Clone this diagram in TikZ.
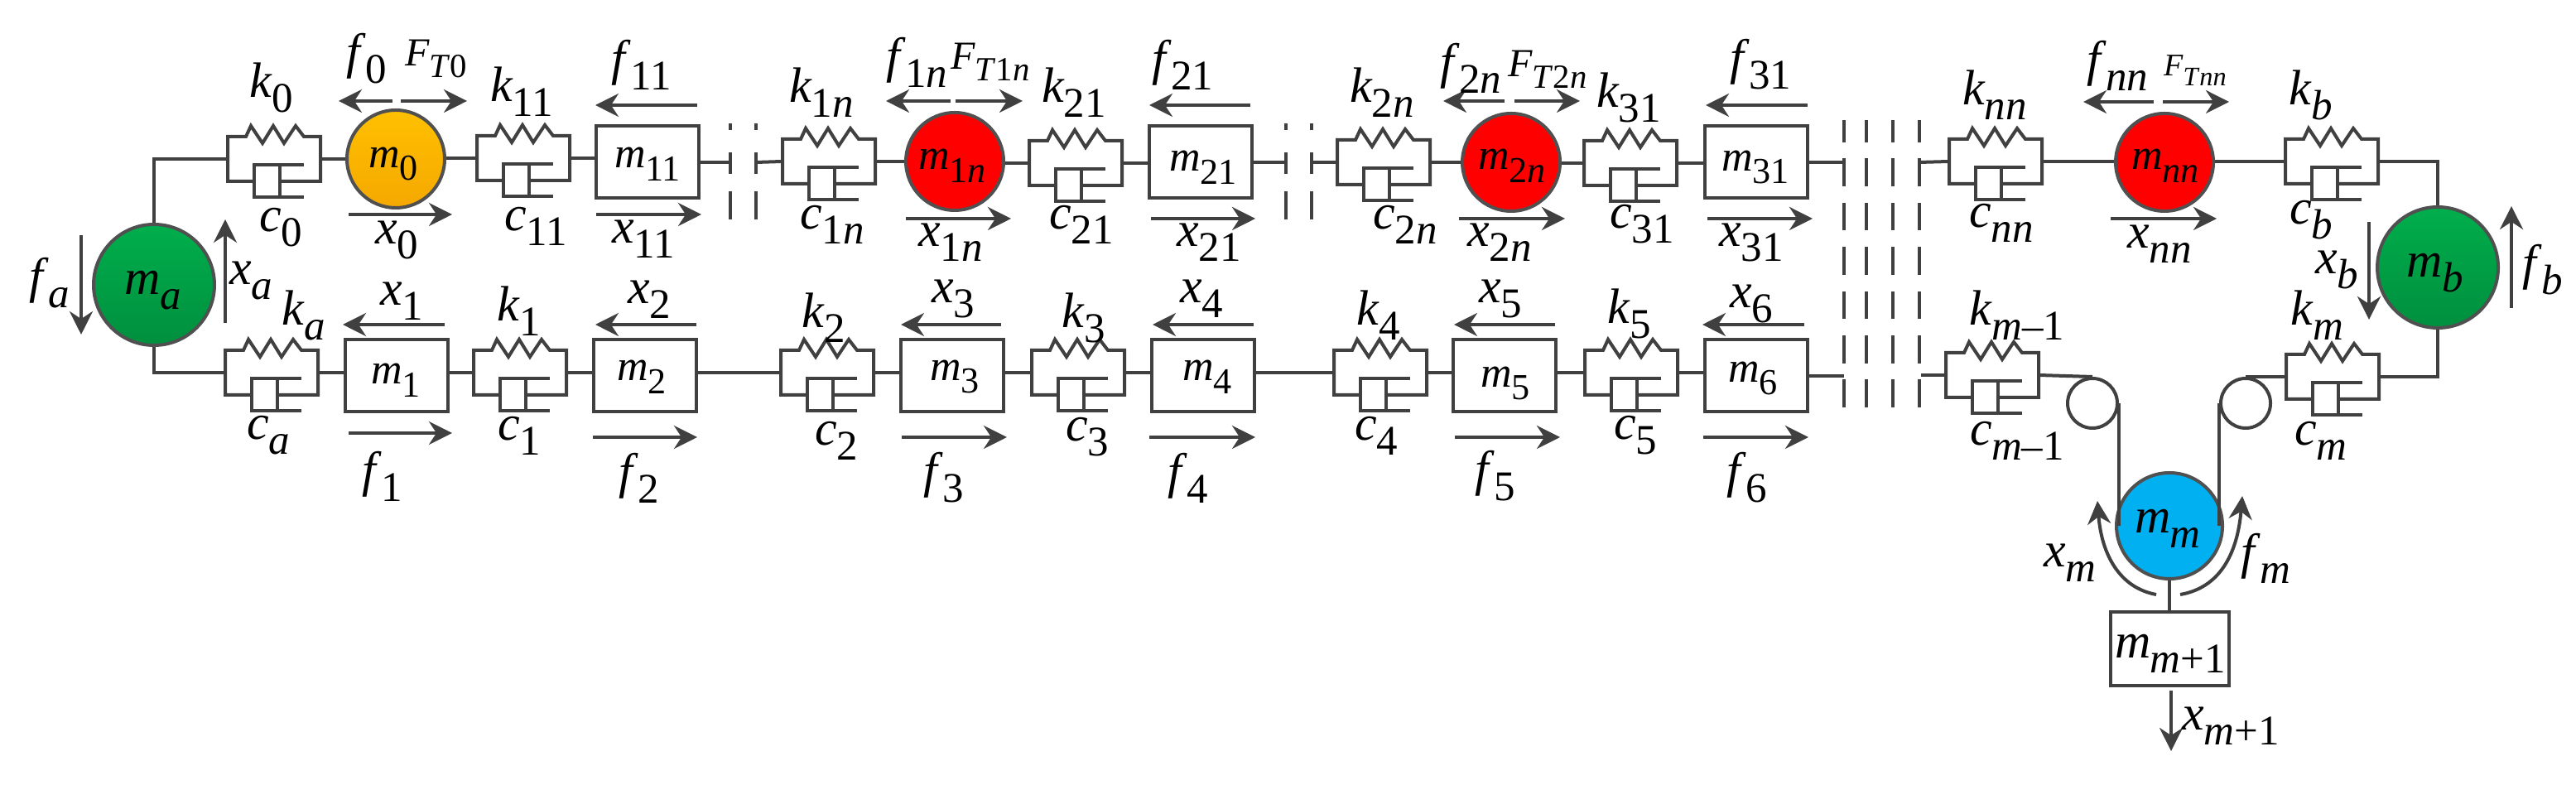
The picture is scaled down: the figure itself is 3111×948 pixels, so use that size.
\documentclass[tikz,border=0pt]{standalone}
\usepackage{graphicx}
\usepackage{fontspec}
\setmainfont{Liberation Serif}
\usetikzlibrary{arrows.meta}
\definecolor{wirecol}{HTML}{404040}
\definecolor{edgecol}{HTML}{505050}
\definecolor{greentop}{HTML}{00AE4C}
\definecolor{greenlow}{HTML}{008F3E}
\definecolor{ambertop}{HTML}{FFC000}
\definecolor{amberlow}{HTML}{F5A800}
\definecolor{skyfill}{HTML}{00B0F0}
\newcommand{\lab}[2]{\textit{#1}\kern-.01em\raisebox{-.3em}{\scalebox{.85}{#2}}}
\newcommand{\vn}{\textit{n}}
\newcommand{\vm}{\textit{m}}

\begin{document}
\begin{tikzpicture}[x=.25pt,y=-.25pt]
\tikzset{
    wire/.style = {draw=wirecol, line width=1pt},
    move/.style = {wire, -{Stealth[length=7pt,width=7pt]}},
    gapmark/.style = {wire, dash pattern=on 2pt off 6.75pt on 6.5pt off 5.25pt on 8.5pt off 100pt},
    rowmark/.style = {wire, dash pattern=on 8.4pt off 4.95pt, dash phase=1.75pt},
    txt/.style = {inner sep=0pt, font=\fontsize{15}{15}\selectfont},
    txtm/.style = {txt, font=\fontsize{13}{13}\selectfont},
    txtf/.style = {txt, font=\fontsize{12}{12}\selectfont},
    block/.style = {wire, rectangle, minimum width=31pt, minimum height=21.75pt, inner sep=0pt},
    disc/.style = {wire, draw=edgecol, circle, minimum size=29.5pt, inner sep=0pt},
    bigdisc/.style = {disc, minimum size=36.5pt, top color=greentop, bottom color=greenlow},
    pulley/.style = {wire, circle, minimum size=15pt, inner sep=0pt},
    unit/.pic = {
        \coordinate (-w) at (0,0);
        \coordinate (-e) at (112,0);
        \draw[wire] (32,27) -- (0,27) -- (0,-27) -- (22,-27) -- (28,-40) -- (42,-19)
            -- (55,-40) -- (68,-19) -- (82,-40) -- (92,-27) -- (112,-27) -- (112,27) -- (63,27);
        \draw[wire] (92,7) -- (32,7) -- (32,46) -- (92,46);
        \draw[wire] (63,7) -- (63,46);
    }
}
\useasboundingbox (0,0) rectangle (3111,948);

% -------------------------------------------------------
\node[bigdisc] (ma) at (186,344) {};
\node[bigdisc] (mb) at (2944,323) {};
\node[disc, minimum size=32pt, fill=skyfill] (mm) at (2620,635) {};
\node[disc, top color=ambertop, bottom color=amberlow] (m0) at (478,192) {};
\foreach \nm/\px/\py in {m1n/1153/195, m2n/1825/196, mnn/2614/196}
    \node[disc, fill=red] (\nm) at (\px,\py) {};

\foreach \nm/\px/\py in {m11/782/196, m21/1450/196, m31/2121/196,
        m1/479/454, m2/779/454, m3/1150/454, m4/1453/454, m5/1817/454, m6/2121/454}
    \node[block] (\nm) at (\px,\py) {};
\node[block, minimum width=35.75pt, minimum height=22.25pt] (mp) at (2620,784) {};

\foreach \nm/\px/\py in {u0/275/192, u11/576/191, u1n/945/195, u21/1243/197, u2n/1615/196,
        u31/1913/197, unn/2354/195, ub/2760/195,
        ua/272/450, u1/572/450, u2/943/450, u3/1246/450, u4/1611/450, u5/1914/450,
        ul/2350/453, um/2761/455}
    \pic (\nm) at (\px,\py) {unit};

\node[pulley] (pl) at (2527,487) {};
\node[pulley] (pr) at (2712,487) {};

% -------------------------------------------------------
\foreach \nm/\px/\py in {g1/882/196, g2/913/196, g3/1553/196, g4/1584/196}{
    \coordinate (\nm) at (\px,\py);
    \path[gapmark] (\px,149) -- (\px,265);
}
\foreach \px in {2227,2254,2286,2318}
    \path[rowmark] (\px,145) -- (\px,499);
\coordinate (g5) at (2227,196);
\coordinate (g6) at (2318,196);
\coordinate (g7) at (2227,454);
\coordinate (g8) at (2320,453);

% -------------------------------------------------------
\foreach \a/\b in {u0/m0, u11/m11, u1n/m1n, u21/m21, u2n/m2n, u31/m31, unn/mnn,
        ua/m1, u1/m2, u2/m3, u3/m4, u4/m5, u5/m6}
    \draw[wire] (\a-e) -- (\a-e -| \b.west);
\foreach \a/\b in {m0/u11, m1n/u21, m2n/u31, mnn/ub,
        m1/u1, m2/u2, m3/u3, m4/u4, m5/u5}
    \draw[wire] (\b-w -| \a.east) -- (\b-w);
\foreach \a/\b in {m11/g1, m21/g3, m31/g5, m6/g7}
    \draw[wire] (\a) -- (\b);
\foreach \a/\b in {g2/u1n, g4/u2n, g6/unn, g8/ul}
    \draw[wire] (\a) -- (\b-w);

\draw[wire] (ma.north) |- (u0-w);
\draw[wire] (ma.south) |- (ua-w);
\draw[wire] (ub-e) -| (mb.north);
\draw[wire] (um-e) -| (mb.south);
\draw[wire] (ul-e) -- (pl.north);
\draw[wire] (um-w) -- (pr.north);
\draw[wire] (pl.east) -- (pl.east |- mm.west);
\draw[wire] (pr.west) -- (pr.west |- mm.east);
\draw[wire] (mm) -- (mp);

% -------------------------------------------------------
\foreach \nm/\xa/\ya/\xb/\yb in {
        f0/474/122/409/122, ft0/484/122/564/122, x0/421/259/546/259,
        f11/842/127/719/127, x11/720/259/847/259,
        f1n/1148/122/1070/122, ft1n/1154/122/1235/122, x1n/1094/264/1221/264,
        f21/1510/127/1388/127, x21/1390/264/1516/264,
        f2n/1817/122/1743/122, ft2n/1829/122/1908/122, x2n/1762/264/1890/264,
        f31/2183/127/2060/127, x31/2062/264/2189/264,
        fnn/2601/123/2516/123, ftnn/2612/123/2692/123, xnn/2549/264/2677/264,
        fa/98/284/98/404, xa/272/390/272/265, xb/2861/268/2861/386, fb/3033/372/3033/249,
        x1/537/392/414/392, x2/841/392/719/392, x3/1209/392/1088/392,
        x4/1514/392/1392/392, x5/1878/392/1756/392, x6/2179/392/2056/392,
        f1/421/523/546/523, f2/716/528/842/528, f3/1089/528/1216/528,
        f4/1388/528/1516/528, f5/1757/528/1884/528, f6/2057/528/2184/528,
        xp/2622/834/2622/907}{
    \coordinate (\nm-a) at (\xa,\ya);
    \coordinate (\nm-b) at (\xb,\yb);
    \draw[move] (\nm-a) -- (\nm-b);
}
\coordinate (xm-a) at (2604,718);
\coordinate (xm-b) at (2533,605);
\coordinate (fm-a) at (2633,718);
\coordinate (fm-b) at (2708,599);
\draw[move] (xm-a) .. controls (2560,710) and (2538,670) .. (xm-b);
\draw[move] (fm-a) .. controls (2680,710) and (2702,670) .. (fm-b);

% -------------------------------------------------------
\foreach \nm/\px/\py/\str in {
        tk0/328/106/{\lab{k}{0}}, tk11/630/111/{\lab{k}{11}}, tk1n/992/112/{\lab{k}{1\vn}},
        tk21/1297/112/{\lab{k}{21}}, tk2n/1669/112/{\lab{k}{2\vn}}, tk31/1967/118/{\lab{k}{31}},
        tknn/2409/115/{\lab{k}{\vn\vn}}, tkb/2791/115/{\lab{k}{\textit{b}}},
        tka/367/381/{\lab{k}{\textit{a}}}, tk1/627/376/{\lab{k}{1}}, tk2/995/384/{\lab{k}{2}},
        tk3/1309/384/{\lab{k}{3}}, tk4/1665/381/{\lab{k}{4}}, tk5/1968/379/{\lab{k}{5}},
        tkl/2436/381/{\lab{k}{\vm--1}}, tkm/2798/381/{\lab{k}{\vm}},
        tc0/339/275/{\lab{c}{0}}, tc11/647/273/{\lab{c}{11}}, tc1n/1005/271/{\lab{c}{1\vn}},
        tc21/1306/271/{\lab{c}{21}}, tc2n/1697/271/{\lab{c}{2\vn}}, tc31/1983/271/{\lab{c}{31}},
        tcnn/2417/269/{\lab{c}{\vn\vn}}, tcb/2791/266/{\lab{c}{\textit{b}}},
        tca/324/526/{\lab{c}{\textit{a}}}, tc1/627/526/{\lab{c}{1}}, tc2/1010/532/{\lab{c}{2}},
        tc3/1313/528/{\lab{c}{3}}, tc4/1662/526/{\lab{c}{4}}, tc5/1975/526/{\lab{c}{5}},
        tcl/2436/532/{\lab{c}{\vm--1}}, tcm/2803/532/{\lab{c}{\vm}},
        tf0/443/71/{\lab{f}{0}}, tf11/775/78/{\lab{f}{11}}, tf1n/1107/75/{\lab{f}{1\vn}},
        tf21/1428/78/{\lab{f}{21}}, tf2n/1776/82/{\lab{f}{2\vn}}, tf31/2126/78/{\lab{f}{31}},
        tfnn/2557/79/{\lab{f}{\vn\vn}},
        tfa/60/342/{\lab{f}{\textit{a}}}, tfb/3071/326/{\lab{f}{\textit{b}}}, tfm/2736/674/{\lab{f}{\vm}},
        tf1/462/575/{\lab{f}{1}}, tf2/772/577/{\lab{f}{2}}, tf3/1140/577/{\lab{f}{3}},
        tf4/1435/577/{\lab{f}{4}}, tf5/1806/575/{\lab{f}{5}}, tf6/2110/577/{\lab{f}{6}},
        tx0/479/290/{\lab{x}{0}}, tx11/777/289/{\lab{x}{11}}, tx1n/1148/293/{\lab{x}{1\vn}},
        tx21/1460/293/{\lab{x}{21}}, tx2n/1811/293/{\lab{x}{2\vn}}, tx31/2115/293/{\lab{x}{31}},
        txnn/2608/295/{\lab{x}{\vn\vn}},
        txa/303/339/{\lab{x}{\textit{a}}}, txb/2822/326/{\lab{x}{\textit{b}}}, txm/2500/680/{\lab{x}{\vm}},
        tx1/485/364/{\lab{x}{1}}, tx2/784/362/{\lab{x}{2}}, tx3/1151/361/{\lab{x}{3}},
        tx4/1451/361/{\lab{x}{4}}, tx5/1812/361/{\lab{x}{5}}, tx6/2115/367/{\lab{x}{6}},
        txp/2694/877/{\lab{x}{\vm+1}},
        tma/185/351/{\lab{m}{\textit{a}}}, tmb/2941/330/{\lab{m}{\textit{b}}},
        tmm/2618/638/{\lab{m}{\vm}}, tmp/2621/789/{\lab{m}{\vm+1}}}
    \node[txt] (\nm) at (\px,\py) {\str};

\foreach \nm/\px/\py/\str in {
        tm0/475/198/{\lab{m}{0}}, tm11/782/198/{\lab{m}{11}}, tm1n/1150/200/{\lab{m}{1\vn}},
        tm21/1453/202/{\lab{m}{21}}, tm2n/1826/200/{\lab{m}{2\vn}}, tm31/2120/202/{\lab{m}{31}},
        tmnn/2615/200/{\lab{m}{\vn\vn}},
        tm1/478/459/{\lab{m}{1}}, tm2/775/455/{\lab{m}{2}}, tm3/1153/455/{\lab{m}{3}},
        tm4/1458/455/{\lab{m}{4}}, tm5/1818/463/{\lab{m}{5}}, tm6/2117/457/{\lab{m}{6}}}
    \node[txtm] (\nm) at (\px,\py) {\str};

\foreach \nm/\px/\py/\str in {
        tft0/527/71/{\lab{F}{\textit{T}0}}, tft1n/1196/75/{\lab{F}{\textit{T}1\vn}},
        tft2n/1869/84/{\lab{F}{\textit{T}2\vn}}}
    \node[txtf] (\nm) at (\px,\py) {\str};

\node[txt, font=\fontsize{9.5}{9.5}\selectfont] (tftnn) at (2651,85) {\lab{F}{\textit{T}\vn\vn}};
\end{tikzpicture}
\end{document}
